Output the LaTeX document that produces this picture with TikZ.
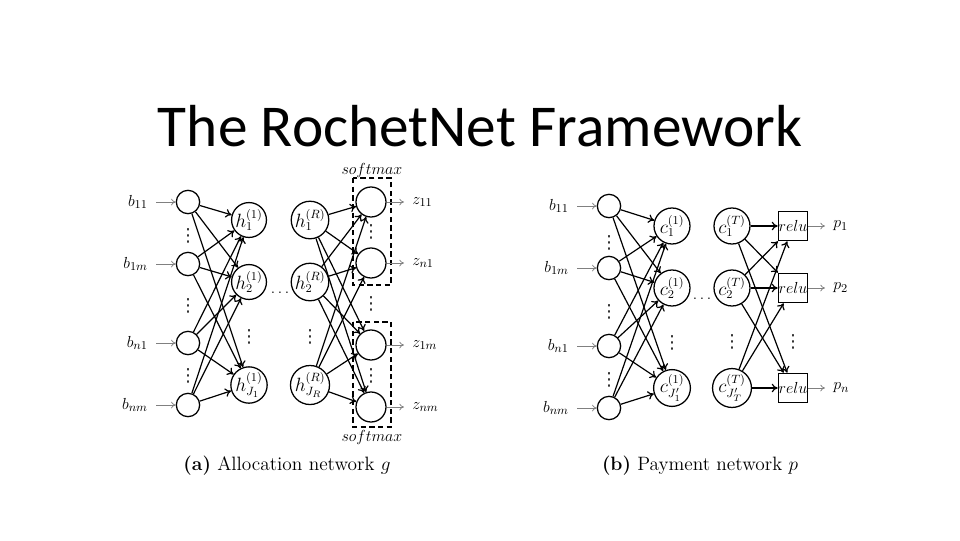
\documentclass[tikz,border=0pt]{standalone}
\usepackage{fontspec}
\newfontfamily\titlefont{Carlito}
\newfontfamily\symfont{DejaVu Sans}
\usetikzlibrary{arrows.meta}
\newcommand\vdt{{\symfont ⋮}}
\begin{document}
\begin{tikzpicture}[x=0.75pt,y=-0.75pt,
  lbl/.style={font=\fontsize{12.5}{14}\selectfont,inner xsep=6pt,inner ysep=2pt},
  inp/.style={circle,draw,line width=0.95pt,minimum size=17.5pt,inner sep=0pt},
  hid/.style={circle,draw,line width=0.95pt,minimum size=25.5pt,inner sep=0pt,font=\fontsize{13.5}{15}\selectfont},
  chid/.style={circle,draw,line width=0.95pt,minimum size=27pt,inner sep=0pt,font=\fontsize{13.5}{15}\selectfont},
  outc/.style={circle,draw,line width=0.95pt,minimum size=22.5pt,inner sep=0pt},
  relubox/.style={draw,line width=0.95pt,minimum size=22pt,inner sep=0pt,font=\fontsize{12.5}{14}\selectfont},
  conn/.style={-{To[length=4.5pt,width=6.5pt]},line width=0.9pt},
  feed/.style={-{To[length=3.5pt,width=5pt]},gray,line width=0.55pt},
  dbox/.style={draw,line width=1pt,dash pattern=on 4pt off 2.5pt},
  dts/.style={inner sep=0pt,text=black!85,font=\fontsize{13.5}{15}\selectfont},
  hdts/.style={inner sep=0pt,font=\fontsize{12}{14}\selectfont},
  captxt/.style={font=\fontsize{14.5}{16}\selectfont}
]
\useasboundingbox (0,0) rectangle (960,540);

% title
\node[anchor=base,inner sep=0pt] (title) at (480,146) {\titlefont\fontsize{44.5}{52}\selectfont The RochetNet Framework};

% ---------------- (a) allocation network ----------------
\node[inp] (a1) at (188,202) {};
\node[inp] (a2) at (188,264) {};
\node[inp] (a3) at (188,343) {};
\node[inp] (a4) at (188,405) {};
\node[lbl,anchor=east] (la1) at (156,202) {$b_{11}$};
\node[lbl,anchor=east] (la2) at (156,264) {$b_{1m}$};
\node[lbl,anchor=east] (la3) at (156,343) {$b_{n1}$};
\node[lbl,anchor=east] (la4) at (156,405) {$b_{nm}$};
\foreach \k in {1,2,3,4} \draw[feed] (la\k) -- (a\k);
\node[dts] (da1) at (188,236) {\vdt};
\node[dts] (da2) at (188,306) {\vdt};
\node[dts] (da3) at (188,376) {\vdt};

\node[hid] (h1) at (249,220) {$h_1^{(1)}$};
\node[hid] (h2) at (249,282) {$h_2^{(1)}$};
\node[hid] (h3) at (249,385) {$h_{J_1}^{(1)}$};
\node[dts] (dh) at (249,337) {\vdt};

\node[hdts] (hdots) at (280,293) {$\dots$};

\node[hid] (r1) at (310,220) {$h_1^{(R)}$};
\node[hid] (r2) at (310,282) {$h_2^{(R)}$};
\node[hid] (r3) at (310,385) {$h_{J_R}^{(R)}$};
\node[dts] (dr) at (310,337) {\vdt};

\node[outc] (o1) at (371,202) {};
\node[outc] (o2) at (371,263) {};
\node[outc] (o3) at (371,345) {};
\node[outc] (o4) at (371,407) {};
\node[dts] (do1) at (371,232) {\vdt};
\node[dts] (do2) at (371,304) {\vdt};
\node[dts] (do3) at (371,376) {\vdt};
\draw[dbox] (353,178) rectangle (391,285);
\draw[dbox] (353,322) rectangle (391,427);
\node[lbl,inner sep=0pt] (sm1) at (372,170) {$softmax$};
\node[lbl,inner sep=0pt] (sm2) at (372,437) {$softmax$};

\node[lbl,anchor=west] (lz1) at (404,202) {$z_{11}$};
\node[lbl,anchor=west] (lz2) at (404,263) {$z_{n1}$};
\node[lbl,anchor=west] (lz3) at (404,345) {$z_{1m}$};
\node[lbl,anchor=west] (lz4) at (404,407) {$z_{nm}$};
\foreach \k in {1,2,3,4} \draw[feed] (o\k) -- (lz\k);

\foreach \i in {a1,a2,a3,a4} \foreach \j in {h1,h2,h3} \draw[conn] (\i) -- (\j);
\foreach \i in {r1,r2,r3} \foreach \j in {o1,o2,o3,o4} \draw[conn] (\i) -- (\j);

\node[captxt] (capa) at (287,466) {\textbf{(a)} Allocation network $g$};

% ---------------- (b) payment network ----------------
\node[inp] (b1) at (609,206) {};
\node[inp] (b2) at (609,268) {};
\node[inp] (b3) at (609,346) {};
\node[inp] (b4) at (609,408) {};
\node[lbl,anchor=east] (lb1) at (577,206) {$b_{11}$};
\node[lbl,anchor=east] (lb2) at (577,268) {$b_{1m}$};
\node[lbl,anchor=east] (lb3) at (577,346) {$b_{n1}$};
\node[lbl,anchor=east] (lb4) at (577,408) {$b_{nm}$};
\foreach \k in {1,2,3,4} \draw[feed] (lb\k) -- (b\k);
\node[dts] (db1) at (609,243) {\vdt};
\node[dts] (db2) at (609,312) {\vdt};
\node[dts] (db3) at (609,380) {\vdt};

\node[chid] (c1) at (672,226) {$c_1^{(1)}$};
\node[chid] (c2) at (672,288) {$c_2^{(1)}$};
\node[chid] (c3) at (672,388) {$c_{J_1'}^{(1)}$};
\node[dts] (dc) at (672,343) {\vdt};

\node[hdts] (cdots) at (702,299) {$\dots$};

\node[chid] (t1) at (732,226) {$c_1^{(T)}$};
\node[chid] (t2) at (732,288) {$c_2^{(T)}$};
\node[chid] (t3) at (732,388) {$c_{J_T'}^{(T)}$};
\node[dts] (dt) at (732,342) {\vdt};

\node[relubox] (e1) at (793,226) {$relu$};
\node[relubox] (e2) at (793,288) {$relu$};
\node[relubox] (e3) at (793,388) {$relu$};
\node[dts] (de) at (793,342) {\vdt};

\node[lbl,anchor=west] (lp1) at (825,226) {$p_1$};
\node[lbl,anchor=west] (lp2) at (825,288) {$p_2$};
\node[lbl,anchor=west] (lp3) at (825,388) {$p_n$};
\foreach \k in {1,2,3} \draw[feed] (e\k) -- (lp\k);

\foreach \i in {b1,b2,b3,b4} \foreach \j in {c1,c2,c3} \draw[conn] (\i) -- (\j);
\foreach \i in {t1,t2,t3} \foreach \j in {e1,e2,e3} \draw[conn] (\i) -- (\j);

\node[captxt] (capb) at (700,466) {\textbf{(b)} Payment network $p$};
\end{tikzpicture}
\end{document}
